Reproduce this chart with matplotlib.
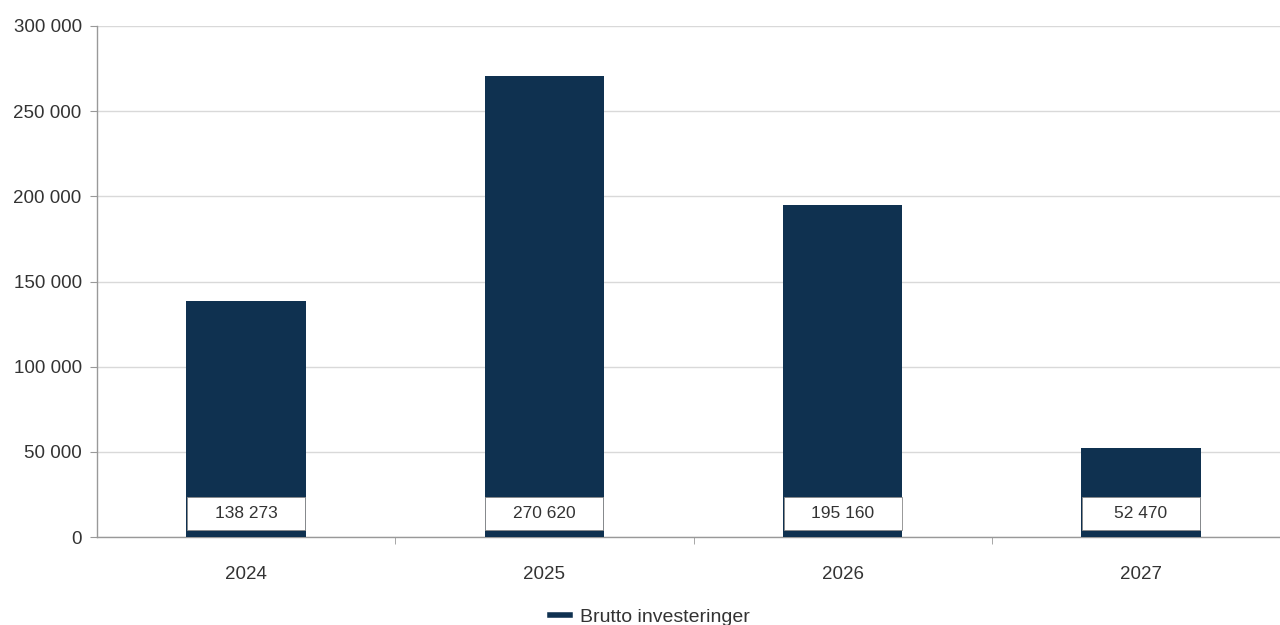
import matplotlib.pyplot as plt
from matplotlib.lines import Line2D
from matplotlib.ticker import FuncFormatter, MultipleLocator, FixedLocator

plt.rcParams['font.family'] = ['Liberation Sans', 'DejaVu Sans']

years = ['2024', '2025', '2026', '2027']
values = [138273, 270620, 195160, 52470]
series_name = 'Brutto investeringer'

bar_color = '#0f3150'
text_color = '#333333'


def fmt(v, pos=None):
    return f'{int(v):,}'.replace(',', ' ')


fig = plt.figure(figsize=(12.8, 6.25), dpi=100)
ax = fig.add_axes([97 / 1280, 88 / 625, 1193 / 1280, 511 / 625])

x = range(len(years))
ax.bar(x, values, width=0.4, color=bar_color, zorder=3)

# value labels in white boxes near the bottom of each bar
for i, v in zip(x, values):
    ax.bar(i, 19300, bottom=4100, width=0.396, color='white',
           edgecolor='#888888', linewidth=0.6, zorder=4)
    ax.text(i, 13700, fmt(v), ha='center', va='center', fontsize=12.5,
            color=text_color, zorder=5)

ax.set_xlim(-0.5, len(years) - 0.5)
ax.set_ylim(0, 300000)
ax.yaxis.set_major_locator(MultipleLocator(50000))
ax.yaxis.set_major_formatter(FuncFormatter(fmt))
ax.set_xticks(list(x))
ax.set_xticklabels(years)
ax.xaxis.set_minor_locator(FixedLocator([0.5, 1.5, 2.5]))

ax.grid(axis='y', color='#d9d9d9', linewidth=1, zorder=0)
for side in ['top', 'right']:
    ax.spines[side].set_visible(False)
for side in ['left', 'bottom']:
    ax.spines[side].set_color('#999999')
    ax.spines[side].set_linewidth(1)

ax.tick_params(axis='y', length=5, color='#999999', labelsize=13.5,
               labelcolor=text_color, pad=6)
ax.tick_params(axis='x', which='major', length=0, labelsize=13.5,
               labelcolor=text_color, pad=21)
ax.tick_params(axis='x', which='minor', length=5, color='#999999')

handle = Line2D([], [], color=bar_color, linewidth=4)
fig.legend([handle], [series_name], loc='center', bbox_to_anchor=(0.508, 8 / 625),
           frameon=False, fontsize=14, handlelength=1.0, handletextpad=0.55,
           labelcolor=text_color)

fig.savefig('out.png', dpi=100)
